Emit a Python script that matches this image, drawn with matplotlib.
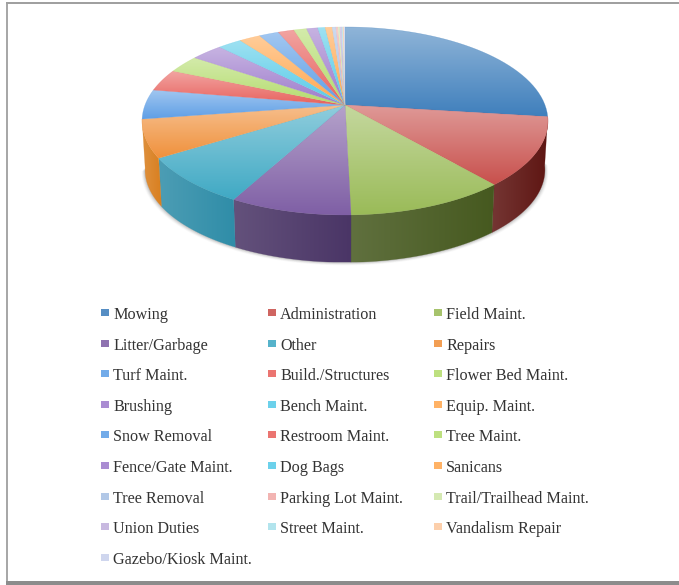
import numpy as np
import matplotlib.pyplot as plt
from matplotlib.colors import LinearSegmentedColormap, to_rgb
from matplotlib.patches import Polygon, Rectangle

categories = ["Mowing", "Administration", "Field Maint.",
              "Litter/Garbage", "Other", "Repairs",
              "Turf Maint.", "Build./Structures", "Flower Bed Maint.",
              "Brushing", "Bench Maint.", "Equip. Maint.",
              "Snow Removal", "Restroom Maint.", "Tree Maint.",
              "Fence/Gate Maint.", "Dog Bags", "Sanicans",
              "Tree Removal", "Parking Lot Maint.", "Trail/Trailhead Maint.",
              "Union Duties", "Street Maint.", "Vandalism Repair",
              "Gazebo/Kiosk Maint."]
shares = [27.0, 11.75, 10.85,
          8.25, 8.25, 6.5,
          5.1, 3.8, 3.1,
          3.0, 2.25, 2.0,
          1.85, 1.5, 1.2,
          1.05, 0.7, 0.65,
          0.35, 0.2, 0.15,
          0.2, 0.1, 0.1,
          0.1]

# six-slice colour cycles, they get brighter then paler further round the pie
base_colors = ["#3f7fbc", "#c8504c", "#9abb58", "#7f5fa5", "#3fa9c4", "#f0913c"]
bright_colors = ["#5f9fe6", "#e8625e", "#b4dc6e", "#9e7ccc", "#58cbe8", "#ffa850"]
pale_colors = ["#a8c0e4", "#f0aaa8", "#cfe6a8", "#c0b0dc", "#a8e0ea", "#fcc8a0"]
palest_colors = ["#c8d0ec"]
cycle_colors = [base_colors, bright_colors, bright_colors, pale_colors, palest_colors]
wall_colors = ["#2a5580", "#5e1512", "#46591f", "#4a3566", "#2f8da8", "#d97f1f"]

W, H = 679, 585
CX, CY = 345.0, 105.0  # where the pie's apex lands
A, B, K = 91.3, 200.0, 0.17  # tilt scale, width scale, perspective strength
DEPTH = 49.0


def project(theta, r=1.0, drop=0.0, shrink=1.0):
    # theta runs clockwise from the back of the pie
    x = r * np.sin(theta)
    y = r * np.cos(theta)
    w = 1 + K * y
    return CX + shrink * B * x / w, CY - shrink * A * y / w + drop


def gradient(ax, poly, c0, c1, horizontal=False):
    x0, y0 = poly.min(axis=0)
    x1, y1 = poly.max(axis=0)
    ramp = np.linspace(0, 1, 128)
    ramp = ramp[None, :] if horizontal else ramp[:, None]
    cmap = LinearSegmentedColormap.from_list("g", [c0, c1])
    im = ax.imshow(ramp, cmap=cmap, extent=(x0, x1, y1, y0), aspect="auto",
                   interpolation="bilinear", zorder=3)
    patch = Polygon(poly, closed=True, transform=ax.transData)
    im.set_clip_path(patch)
    # thin edge hides the seam between neighbouring clipped images
    ax.add_patch(Polygon(poly, closed=True, fill=False, edgecolor=c1,
                         linewidth=0.3, alpha=0.5, zorder=3))


def lighten(color, amount):
    rgb = np.array(to_rgb(color))
    return tuple(rgb + (1 - rgb) * amount)


def slice_color(i):
    cycle = cycle_colors[i // 6]
    return cycle[i % len(cycle)]


fig = plt.figure(figsize=(W / 100, H / 100), dpi=100)
ax = fig.add_axes([0, 0, 1, 1])

# page frame with its heavier lower edge
ax.add_patch(Rectangle((6, 3), 2, 579, color="#a8a8a8", lw=0))
ax.add_patch(Rectangle((6, 2), W, 2, color="#a0a0a0", lw=0))
ax.add_patch(Rectangle((6, 581), W, 4, color="#8c8c8c", lw=0))

edges = np.radians(np.cumsum([0] + shares) / sum(shares) * 360)

# soft shadow under the base
t = np.linspace(0, 2 * np.pi, 300)
for grow, alpha in zip([5, 4, 3, 2, 1], [0.03, 0.05, 0.07, 0.09, 0.12]):
    sx, sy = project(t, drop=DEPTH + grow * 0.6, shrink=0.985)
    mask = (t > np.radians(95)) & (t < np.radians(262))
    ax.fill(CX + (sx[mask] - CX) * (1 + grow / 300), sy[mask], color="#505050", alpha=alpha, lw=0, zorder=2)

# side walls first, the top surface covers their hidden back half
for i in range(1, 6):
    t = np.linspace(edges[i], edges[i + 1], 40)
    tx, ty = project(t)
    bx, by = project(t[::-1], drop=DEPTH, shrink=0.985)
    poly = np.column_stack([np.r_[tx, bx], np.r_[ty, by]])
    dark = wall_colors[i]
    gradient(ax, poly, lighten(dark, 0.14), dark, horizontal=True)

# top surface, each wedge lighter towards its upper side
for i in range(len(shares)):
    t = np.linspace(edges[i], edges[i + 1], 40)
    tx, ty = project(t)
    poly = np.column_stack([np.r_[CX, tx], np.r_[CY, ty]])
    col = slice_color(i)
    gradient(ax, poly, lighten(col, 0.42), col)

# legend, three columns filled row by row
col_x = [101, 268, 434]
for i, name in enumerate(categories):
    row, col = divmod(i, 3)
    y = 314 + row * 30.6
    ax.add_patch(Rectangle((col_x[col], y - 5), 8, 7, color=lighten(slice_color(i), 0.12), lw=0, zorder=4))
    ax.text(col_x[col] + 12, y + 1, name, family="Liberation Serif", fontsize=11.6,
            color="#333333", va="center", ha="left", zorder=4)

ax.set_xlim(0, W)
ax.set_ylim(H, 0)
ax.axis("off")
fig.savefig("out.png", dpi=100)
